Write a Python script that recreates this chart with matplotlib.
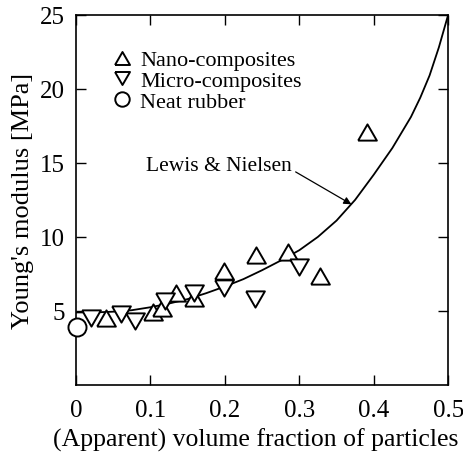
import matplotlib
matplotlib.use('Agg')
import matplotlib.pyplot as plt

plt.rcParams['font.family'] = ['Liberation Serif', 'DejaVu Serif']
plt.rcParams['mathtext.fontset'] = 'stix'

# data
nano_x = [0.04, 0.103, 0.115, 0.135, 0.158, 0.199, 0.242, 0.285, 0.328, 0.391]
nano_y = [4.5, 4.95, 5.2, 6.2, 5.9, 7.7, 8.8, 8.95, 7.35, 17.1]

micro_x = [0.02, 0.06, 0.08, 0.119, 0.159, 0.199, 0.24, 0.30]
micro_y = [4.55, 4.8, 4.3, 5.65, 6.2, 6.55, 5.8, 8.0]

neat_x = [0.002]
neat_y = [3.9]

# Lewis & Nielsen curve
ln_x = [0.0, 0.025, 0.05, 0.075, 0.1, 0.125, 0.15, 0.175, 0.2, 0.225, 0.25,
        0.275, 0.3, 0.325, 0.35, 0.375, 0.4, 0.425, 0.45, 0.4625, 0.475,
        0.4875, 0.5]
ln_y = [4.9, 4.9, 4.95, 5.05, 5.25, 5.5, 5.8, 6.2, 6.65, 7.15, 7.75,
        8.4, 9.1, 10.0, 11.1, 12.5, 14.2, 16.0, 18.1, 19.4, 20.9,
        22.8, 25.0]

x_ticks = [0, 0.1, 0.2, 0.3, 0.4, 0.5]
x_labels = ['0', '0.1', '0.2', '0.3', '0.4', '0.5']
y_ticks = [5, 10, 15, 20, 25]

# equilateral triangles, centred on their bounding box
tri_up = [(-1, -0.866), (1, -0.866), (0, 0.866), (-1, -0.866)]
tri_down = [(-1, 0.866), (1, 0.866), (0, -0.866), (-1, 0.866)]

fig = plt.figure(figsize=(4.63, 4.56), dpi=100)
ax = fig.add_axes([0.164, 0.1535, 0.804, 0.812])

ax.plot(ln_x, ln_y, c='black', linewidth=1.3, zorder=2)
ax.plot(nano_x, nano_y, marker=tri_up, ms=13.5, mfc='white', mec='black', mew=1.4,
        linestyle='none', label='Nano-composites', zorder=3)
ax.plot(micro_x, micro_y, marker=tri_down, ms=13.5, mfc='white', mec='black', mew=1.4,
        linestyle='none', label='Micro-composites', zorder=3)
ax.plot(neat_x, neat_y, 'o', ms=13, mfc='white', mec='black', mew=1.4,
        linestyle='none', label='Neat rubber', zorder=4, clip_on=False)

ax.annotate('Lewis & Nielsen', xy=(0.37, 12.2), xytext=(0.094, 14.8),
            fontsize=15.5, va='center',
            arrowprops=dict(arrowstyle='-|>', color='black', lw=0.9,
                            shrinkA=1, shrinkB=0, mutation_scale=11,
                            relpos=(1.0, 0.3)))

ax.set_xlim(0, 0.5)
ax.set_ylim(0, 25)
ax.set_xticks(x_ticks)
ax.set_xticklabels(x_labels)
ax.set_yticks(y_ticks)
ax.tick_params(direction='in', length=7, width=1.0, top=True, right=True,
               labelsize=18, pad=8)
ax.tick_params(axis='x', pad=10)
for s in ax.spines.values():
    s.set_linewidth(1.2)

ax.set_xlabel('(Apparent) volume fraction of particles', fontsize=18.5)
ax.xaxis.set_label_coords(0.482, -0.115)
ax.xaxis.label.set_va('top')
ax.set_ylabel("Young's modulus [MPa]", fontsize=19, labelpad=4)

ax.legend(loc='upper left', bbox_to_anchor=(0.065, 0.935), frameon=False,
          fontsize=16, handletextpad=0.3, labelspacing=0.0, borderpad=0,
          handlelength=1.0, markerscale=0.8)

fig.savefig('out.png', dpi=100)
